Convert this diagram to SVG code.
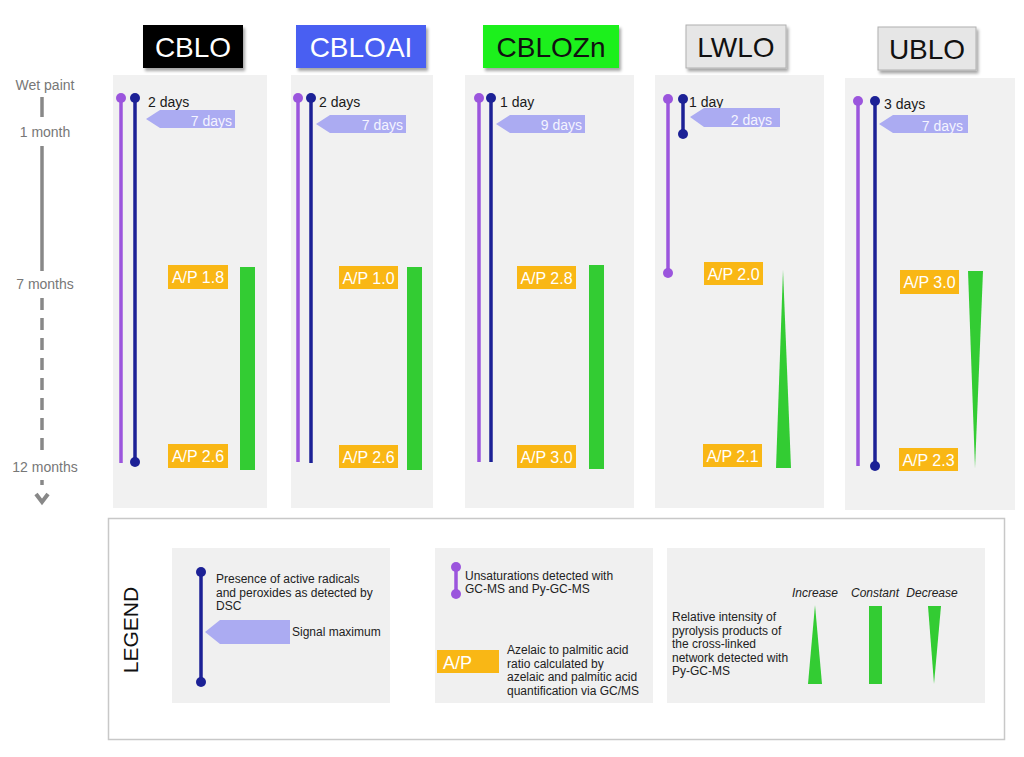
<svg xmlns="http://www.w3.org/2000/svg" width="1024" height="757" viewBox="0 0 1024 757">
<style>
text{font-family:"Liberation Sans",Arial,sans-serif}
.hd{font-size:28px;text-anchor:middle}
.panel{fill:#f1f1f1}
.pur{stroke:#9b55dd;stroke-width:3.5;fill:none}
.blu{stroke:#1c2196;stroke-width:3.5;fill:none}
.pdot{fill:#9b55dd}
.bdot{fill:#1c2196}
.sig{fill:#ababf2}
.sigt{fill:#f4f4ff;font-size:14px;text-anchor:end}
.day{fill:#1a1a1a;font-size:14px}
.ap{fill:#f9b715}
.apt{fill:#ffffff;font-size:16px;text-anchor:middle}
.gr{fill:#33cc33}
.tl{fill:#777;font-size:14px;text-anchor:middle}
.lg{fill:#222;font-size:12px}
.sub{fill:#f0f0f0}
</style>
<defs>
<filter id="sh" x="-10%" y="-10%" width="130%" height="140%">
<feDropShadow dx="2" dy="3" stdDeviation="1.5" flood-color="#000" flood-opacity="0.35"/>
</filter>
</defs>

<g id="timeline">
<text class="tl" x="45" y="90">Wet paint</text>
<line x1="42" y1="97" x2="42" y2="117" stroke="#888" stroke-width="3.5"/>
<text class="tl" x="45" y="137">1 month</text>
<line x1="42" y1="146" x2="42" y2="271" stroke="#888" stroke-width="3.5"/>
<text class="tl" x="45" y="289">7 months</text>
<line x1="42" y1="298" x2="42" y2="455" stroke="#888" stroke-width="3.5" stroke-dasharray="12,8"/>
<text class="tl" x="45" y="472">12 months</text>
<line x1="42" y1="480" x2="42" y2="485" stroke="#888" stroke-width="3.5"/>
<polyline points="36,494 42,502 48,494" fill="none" stroke="#888" stroke-width="4"/>
</g>

<g id="header-CBLO">
<rect x="143" y="25" width="100" height="43" fill="#000" filter="url(#sh)"/>
<text class="hd" x="193" y="57" fill="#fff">CBLO</text>
</g>
<g id="header-CBLOAI">
<rect x="296" y="25" width="130" height="43" fill="#4a5ff2" filter="url(#sh)"/>
<text class="hd" x="361" y="57" fill="#fff">CBLOAI</text>
</g>
<g id="header-CBLOZn">
<rect x="483" y="25" width="136" height="43" fill="#1ef01e" filter="url(#sh)"/>
<text class="hd" x="551" y="57" fill="#111">CBLOZn</text>
</g>
<g id="header-LWLO">
<rect x="686" y="25" width="100" height="43" fill="#e6e6e6" stroke="#b0b0b0" stroke-width="1" filter="url(#sh)"/>
<text class="hd" x="736" y="57" fill="#111">LWLO</text>
</g>
<g id="header-UBLO">
<rect x="878" y="27" width="98" height="43" fill="#e6e6e6" stroke="#b0b0b0" stroke-width="1" filter="url(#sh)"/>
<text class="hd" x="927" y="59" fill="#111">UBLO</text>
</g>

<g id="panel-CBLO">
<rect class="panel" x="113" y="75" width="154" height="433"/>
<line class="pur" x1="121" y1="98" x2="121" y2="463"/>
<circle class="pdot" cx="121" cy="98" r="5"/>
<line class="blu" x1="135" y1="98" x2="135" y2="462"/>
<circle class="bdot" cx="135" cy="98" r="5"/>
<circle class="bdot" cx="135" cy="462" r="5"/>
<text class="day" x="148" y="107">2 days</text>
<polygon class="sig" points="146,119 160,110 235,110 235,128 160,128"/>
<text class="sigt" x="232" y="126">7 days</text>
<rect class="ap" x="168" y="265" width="60" height="24"/>
<text class="apt" x="198" y="283">A/P 1.8</text>
<rect class="gr" x="240" y="267" width="15" height="203"/>
<rect class="ap" x="168" y="444" width="60" height="24"/>
<text class="apt" x="198" y="462">A/P 2.6</text>
</g>

<g id="panel-CBLOAI">
<rect class="panel" x="291" y="75" width="142" height="433"/>
<line class="pur" x1="298" y1="98" x2="298" y2="462"/>
<circle class="pdot" cx="298" cy="98" r="5"/>
<line class="blu" x1="311" y1="98" x2="311" y2="463"/>
<circle class="bdot" cx="311" cy="98" r="5"/>
<text class="day" x="319" y="107">2 days</text>
<polygon class="sig" points="316,124 330,115 406,115 406,133 330,133"/>
<text class="sigt" x="403" y="130">7 days</text>
<rect class="ap" x="339" y="266" width="59" height="23"/>
<text class="apt" x="368.5" y="284">A/P 1.0</text>
<rect class="gr" x="407" y="267" width="15" height="203"/>
<rect class="ap" x="339" y="445" width="59" height="23"/>
<text class="apt" x="368.5" y="463">A/P 2.6</text>
</g>

<g id="panel-CBLOZn">
<rect class="panel" x="465" y="75" width="169" height="433"/>
<line class="pur" x1="479" y1="98" x2="479" y2="462"/>
<circle class="pdot" cx="479" cy="98" r="5"/>
<line class="blu" x1="491" y1="98" x2="491" y2="462"/>
<circle class="bdot" cx="491" cy="98" r="5"/>
<text class="day" x="500" y="107">1 day</text>
<polygon class="sig" points="496,124 510,115 585,115 585,133 510,133"/>
<text class="sigt" x="582" y="130">9 days</text>
<rect class="ap" x="517" y="266" width="59" height="23"/>
<text class="apt" x="546.5" y="284">A/P 2.8</text>
<rect class="gr" x="589" y="265" width="15" height="204"/>
<rect class="ap" x="517" y="445" width="59" height="23"/>
<text class="apt" x="546.5" y="463">A/P 3.0</text>
</g>

<g id="panel-LWLO">
<rect class="panel" x="655" y="75" width="169" height="433"/>
<line class="pur" x1="668" y1="99" x2="668" y2="273"/>
<circle class="pdot" cx="668" cy="99" r="5"/>
<circle class="pdot" cx="668" cy="273" r="5"/>
<line class="blu" x1="683" y1="99" x2="683" y2="134"/>
<circle class="bdot" cx="683" cy="99" r="5"/>
<circle class="bdot" cx="683" cy="134" r="5"/>
<text class="day" x="689" y="107">1 day</text>
<polygon class="sig" points="690,117 704,108 780,108 780,127 704,127"/>
<text class="sigt" x="772" y="125">2 days</text>
<rect class="ap" x="704" y="262" width="59" height="23"/>
<text class="apt" x="733.5" y="280">A/P 2.0</text>
<polygon class="gr" points="783,270 791,468 776,468"/>
<rect class="ap" x="703" y="444" width="59" height="23"/>
<text class="apt" x="732.5" y="462">A/P 2.1</text>
</g>

<g id="panel-UBLO">
<rect class="panel" x="845" y="78" width="170" height="432"/>
<line class="pur" x1="858" y1="101" x2="858" y2="466"/>
<circle class="pdot" cx="858" cy="101" r="5"/>
<line class="blu" x1="875" y1="101" x2="875" y2="466"/>
<circle class="bdot" cx="875" cy="101" r="5"/>
<circle class="bdot" cx="875" cy="466" r="5"/>
<text class="day" x="884" y="109">3 days</text>
<polygon class="sig" points="879,124 893,115 968,115 968,133 893,133"/>
<text class="sigt" x="963" y="131">7 days</text>
<rect class="ap" x="900" y="270" width="59" height="24"/>
<text class="apt" x="929.5" y="288">A/P 3.0</text>
<polygon class="gr" points="968,271 983,271 975,468"/>
<rect class="ap" x="899" y="448" width="59" height="23"/>
<text class="apt" x="928.5" y="466">A/P 2.3</text>
</g>

<g id="legend">
<rect x="108.5" y="518.5" width="896" height="221" fill="#fff" stroke="#c8c8c8" stroke-width="1.5"/>
<text x="131" y="630" font-size="21" fill="#111" text-anchor="middle" transform="rotate(-90 131 630)" dy="7">LEGEND</text>

<g id="legend-dsc">
<rect class="sub" x="172" y="548" width="218" height="155"/>
<line class="blu" x1="201" y1="572" x2="201" y2="682"/>
<circle class="bdot" cx="201" cy="572" r="5"/>
<circle class="bdot" cx="201" cy="682" r="5"/>
<text class="lg" x="216" y="583">Presence of active radicals</text>
<text class="lg" x="216" y="596.5">and peroxides as detected by</text>
<text class="lg" x="216" y="610">DSC</text>
<polygon class="sig" points="205,632 220,620 290,620 290,644 220,644"/>
<text class="lg" x="292" y="636">Signal maximum</text>
</g>

<g id="legend-ap">
<rect class="sub" x="435" y="548" width="218" height="155"/>
<line class="pur" x1="456" y1="567" x2="456" y2="594"/>
<circle class="pdot" cx="456" cy="567" r="5"/>
<circle class="pdot" cx="456" cy="594" r="5"/>
<text class="lg" x="465" y="580">Unsaturations detected with</text>
<text class="lg" x="465" y="593">GC-MS and Py-GC-MS</text>
<rect class="ap" x="437" y="650" width="62" height="23"/>
<text x="443" y="669" font-size="18" fill="#fff">A/P</text>
<text class="lg" x="507" y="654">Azelaic to palmitic acid</text>
<text class="lg" x="507" y="667.5">ratio calculated by</text>
<text class="lg" x="507" y="681">azelaic and palmitic acid</text>
<text class="lg" x="507" y="694.5">quantification via GC/MS</text>
</g>

<g id="legend-pyro">
<rect class="sub" x="667" y="548" width="318" height="155"/>
<text class="lg" x="672" y="621">Relative intensity of</text>
<text class="lg" x="672" y="634.5">pyrolysis products of</text>
<text class="lg" x="672" y="648">the cross-linked</text>
<text class="lg" x="672" y="661.5">network detected with</text>
<text class="lg" x="672" y="675">Py-GC-MS</text>
<text class="lg" x="815" y="597" font-style="italic" text-anchor="middle">Increase</text>
<text class="lg" x="875" y="597" font-style="italic" text-anchor="middle">Constant</text>
<text class="lg" x="932" y="597" font-style="italic" text-anchor="middle">Decrease</text>
<polygon class="gr" points="815,605 822,684 808,684"/>
<rect class="gr" x="869" y="606" width="13" height="78"/>
<polygon class="gr" points="928,606 941,606 934,684"/>
</g>
</g>
</svg>
